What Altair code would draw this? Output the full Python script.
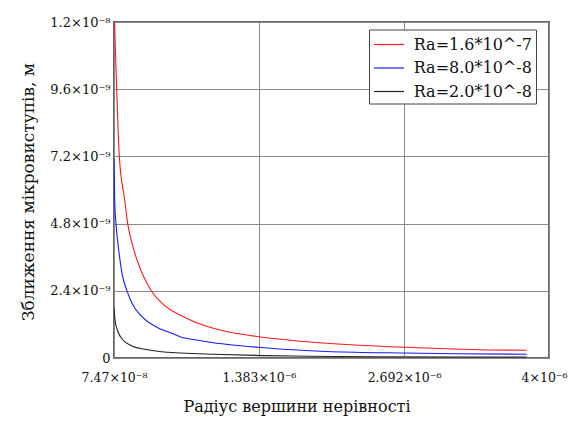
import altair as alt
import pandas as pd

# Series names
names = ["Ra=1.6*10^-7", "Ra=8.0*10^-8", "Ra=2.0*10^-8"]
colors = ["#ff1a1a", "#1a1aff", "#222222"]

# Red series (Ra=1.6e-7)
x_red = [7.47e-8, 7.92e-8, 9.91e-8, 1.225e-7, 1.713e-7, 1.983e-7, 2.371e-7, 2.823e-7,
         3.427e-7, 4.113e-7, 5.079e-7, 6.703e-7, 8.21e-7, 9.708e-7, 1.1215e-6, 1.2722e-6,
         1.3769e-6, 1.5727e-6, 1.8434e-6, 2.2495e-6, 2.7007e-6, 3.152e-6, 3.4524e-6, 3.799e-6]
y_red = [1.27e-8, 1.20e-8, 9.6e-9, 7.2e-9, 5.64e-9, 4.8e-9, 4.10e-9, 3.50e-9,
         2.90e-9, 2.4e-9, 1.953e-9, 1.536e-9, 1.261e-9, 1.061e-9, 9.18e-10, 8.21e-10,
         7.61e-10, 6.68e-10, 5.71e-10, 4.64e-10, 3.82e-10, 3.21e-10, 2.86e-10, 2.75e-10]

# Blue series (Ra=8.0e-8)
x_blue = [7.47e-8, 8.1e-8, 9.28e-8, 1.171e-7, 1.469e-7, 1.92e-7, 2.371e-7, 3.274e-7,
          4.781e-7, 5.954e-7, 6.703e-7, 8.21e-7, 9.708e-7, 1.1215e-6, 1.3769e-6,
          1.5727e-6, 1.8434e-6, 2.2495e-6, 2.7007e-6, 3.152e-6, 3.799e-6]
y_blue = [7.13e-9, 5.64e-9, 4.8e-9, 3.86e-9, 3.02e-9, 2.4e-9, 1.953e-9, 1.475e-9,
          1.061e-9, 8.82e-10, 7.61e-10, 6.43e-10, 5.46e-10, 4.75e-10, 3.82e-10,
          3.21e-10, 2.61e-10, 2.04e-10, 1.79e-10, 1.54e-10, 1.32e-10]

# Black series (Ra=2.0e-8)
x_black = [7.47e-8, 8.64e-8, 1.108e-7, 1.559e-7, 2.308e-7, 3.517e-7, 5.015e-7, 6.8e-7,
           9.708e-7, 1.422e-6, 1.8434e-6, 2.4147e-6, 3.799e-6]
y_black = [1.775e-9, 1.296e-9, 9.39e-10, 6.43e-10, 4.39e-10, 3.11e-10, 2.25e-10, 1.8e-10,
           1.35e-10, 8.5e-11, 6.5e-11, 4.5e-11, 3.5e-11]

# Axis ticks and labels
x_ticks = [7.47e-8, 1.383e-6, 2.692e-6, 4e-6]
x_labels = ["7.47×10⁻⁸", "1.383×10⁻⁶", "2.692×10⁻⁶", "4×10⁻⁶"]
y_ticks = [0, 2.4e-9, 4.8e-9, 7.2e-9, 9.6e-9, 1.2e-8]
y_labels = ["0", "2.4×10⁻⁹", "4.8×10⁻⁹", "7.2×10⁻⁹", "9.6×10⁻⁹", "1.2×10⁻⁸"]

rows = []
for name, xs, ys in zip(names, [x_red, x_blue, x_black], [y_red, y_blue, y_black]):
    for xv, yv in zip(xs, ys):
        rows.append({"series": name, "x": xv, "y": yv})
df = pd.DataFrame(rows)


def label_expr(vals, labels):
    arr_v = "[" + ",".join(repr(v) for v in vals) + "]"
    arr_l = "[" + ",".join("'" + s + "'" for s in labels) + "]"
    return f"{arr_l}[indexof({arr_v}, datum.value)]"


FONT = "DejaVu Serif"

chart = alt.Chart(df).mark_line(clip=True, strokeWidth=1.1, interpolate="monotone").encode(
    x=alt.X("x:Q",
            scale=alt.Scale(domain=[7.47e-8, 4e-6], nice=False, zero=False),
            axis=alt.Axis(values=x_ticks, labelExpr=label_expr(x_ticks, x_labels),
                          grid=True, ticks=False, domain=False, labelPadding=13,
                          labelFlush=False, labelOverlap=False,
                          labelOffset={"condition": {"test": "datum.value >= 3.9e-6", "value": -5},
                                       "value": 0},
                          labelFont=FONT, labelFontSize=12.5, labelColor="#111",
                          title="Радіус вершини нерівності", titleFont=FONT,
                          titleFontSize=16, titleFontWeight="normal", titleColor="#111",
                          titleX=182.5, titleY=53, titleBaseline="alphabetic",
                          titleAlign="center")),
    y=alt.Y("y:Q",
            scale=alt.Scale(domain=[0, 1.2e-8], nice=False),
            axis=alt.Axis(values=y_ticks, labelExpr=label_expr(y_ticks, y_labels),
                          grid=True, ticks=False, domain=False, labelPadding=4,
                          labelFlush=False, labelOverlap=False,
                          labelFont=FONT, labelFontSize=13, labelColor="#111",
                          title="Зближення мікровиступів, м", titleFont=FONT,
                          titleFontSize=17, titleFontWeight="normal", titleColor="#111",
                          titleX=-81, titleY=169.5, titleBaseline="alphabetic",
                          titleAlign="center", titleAngle=270)),
    color=alt.Color("series:N",
                    scale=alt.Scale(domain=names, range=colors),
                    legend=alt.Legend(title=None, orient="none", legendX=255, legendY=7.5,
                                      symbolType="M-1,0H2", symbolSize=400,
                                      symbolStrokeWidth=1.2, labelOffset=18.7,
                                      rowPadding=4.5, padding=4,
                                      labelFont=FONT, labelFontSize=16, labelColor="#111",
                                      strokeColor="#444", fillColor="white")),
    order=alt.Order("x:Q"),
).properties(
    width=435, height=336,
    autosize=alt.AutoSizeParams(type="none"),
    padding={"left": 106, "top": 14, "right": 20, "bottom": 58},
    background="white",
).configure_view(
    stroke="#666", strokeWidth=2
).configure_axis(
    gridColor="#8a8a8a", gridWidth=1, gridOpacity=1
)

chart.save("out.html", embed_options={"renderer": "svg", "actions": False})
